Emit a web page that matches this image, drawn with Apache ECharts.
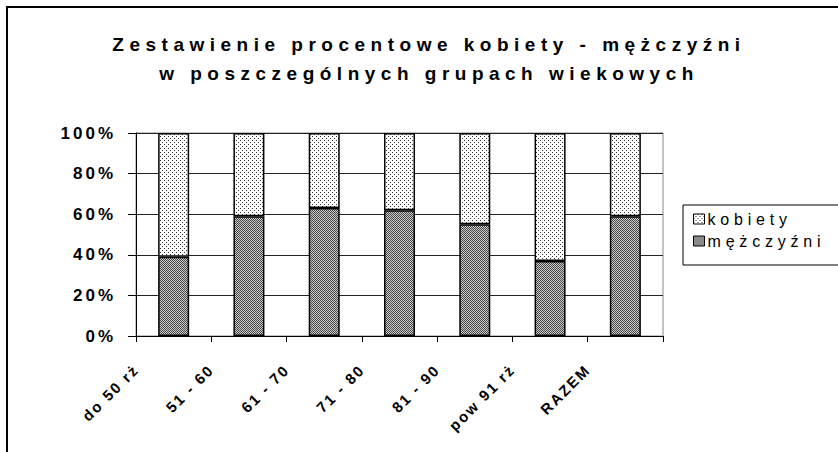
<!DOCTYPE html>
<html>
<head>
<meta charset="UTF-8" />
<title>Zestawienie procentowe kobiety - mężczyźni</title>
<style>
  html, body { margin: 0; padding: 0; background: #fff; }
  #chart { width: 838px; height: 452px; }
  #chart image { image-rendering: pixelated; }
  /* rozstrzelone litery jak w Excelu */
  #chart text[style*="19px"] { letter-spacing: 5.5px; }
  #chart text[style*="17px"] { letter-spacing: 3px; }
  #chart text[style*="16px"] { letter-spacing: 4.8px; }
  #chart text[style*="15px"] { letter-spacing: 2px; }
</style>
<script src="https://cdn.jsdelivr.net/npm/echarts@6/dist/echarts.min.js"></script>
</head>
<body>
<div id="chart"></div>
<script>
// dane (%)
var categories = ["do 50 rż", "51 - 60", "61 - 70", "71 - 80", "81 - 90", "pow 91 rż", "RAZEM"];
var mezczyzni = [39, 59, 63, 62, 55, 37, 59];
var kobiety = [61, 41, 37, 38, 45, 63, 41];
var seriesNames = ["kobiety", "mężczyźni"];

// wzorki wypełnienia
function makePattern(w, h, draw) {
  var c = document.createElement("canvas");
  c.width = w; c.height = h;
  var ctx = c.getContext("2d");
  draw(ctx);
  return { image: c.toDataURL(), imageWidth: w, imageHeight: h, repeat: "repeat" };
}
var dotFill = makePattern(4, 4, function (ctx) {
  ctx.fillStyle = "#ffffff"; ctx.fillRect(0, 0, 4, 4);
  ctx.fillStyle = "#333333";
  ctx.fillRect(0, 0, 1, 1);
  ctx.fillRect(2, 2, 1, 1);
});
var checkFill = makePattern(2, 2, function (ctx) {
  ctx.fillStyle = "#cccccc"; ctx.fillRect(0, 0, 2, 2);
  ctx.fillStyle = "#454545";
  ctx.fillRect(0, 0, 1, 1);
  ctx.fillRect(1, 1, 1, 1);
});

var font = "Liberation Sans";
var chart = echarts.init(document.getElementById("chart"), null, { renderer: "svg" });

var option = {
  animation: false,
  backgroundColor: "#fff",
  title: {
    text: "Zestawienie procentowe kobiety - mężczyźni\nw poszczególnych grupach wiekowych",
    left: 429,
    top: 30,
    padding: 0,
    textAlign: "center",
    textStyle: { fontFamily: font, fontWeight: "bold", fontSize: 19, lineHeight: 29, color: "#000" }
  },
  legend: {
    data: seriesNames,
    orient: "vertical",
    left: 683,
    top: 205,
    padding: [6, 60, 16, 10],
    itemGap: 6,
    itemWidth: 11,
    itemHeight: 10,
    icon: "rect",
    borderColor: "#000",
    borderWidth: 1,
    itemStyle: { borderColor: "#000", borderWidth: 1 },
    textStyle: { fontFamily: font, fontSize: 16, color: "#000", padding: [0, 0, 0, -2] }
  },
  grid: { left: 136, right: 175, top: 133, bottom: 116, show: true, borderColor: "#888", borderWidth: 1 },
  xAxis: [{
    type: "category",
    data: categories,
    position: "bottom",
    axisLine: { lineStyle: { color: "#000", width: 1 } },
    axisTick: { show: true, length: 6, lineStyle: { color: "#000" } },
    axisLabel: { show: false }
  }, {
    // etykiety przy kreskach podziału, jak w oryginale
    type: "category",
    data: categories.concat([""]),
    position: "bottom",
    boundaryGap: false,
    axisLine: { show: false },
    axisTick: { show: false },
    axisLabel: {
      interval: 0,
      rotate: 45,
      margin: 31,
      fontFamily: font,
      fontWeight: "bold",
      fontSize: 15,
      color: "#000"
    }
  }],
  yAxis: {
    type: "value",
    min: 0,
    max: 100,
    interval: 20,
    axisLine: { show: true, lineStyle: { color: "#000" } },
    axisTick: { show: true, length: 8, lineStyle: { color: "#000" } },
    splitLine: { lineStyle: { color: "#222", width: 1 } },
    axisLabel: {
      formatter: "{value}%",
      margin: 20,
      fontFamily: font,
      fontWeight: "bold",
      fontSize: 17,
      color: "#000"
    }
  },
  series: [{
    name: "mężczyźni",
    type: "bar",
    stack: "razem",
    xAxisIndex: 0,
    barWidth: 31,
    data: mezczyzni,
    itemStyle: { color: checkFill, borderColor: "#000", borderWidth: 1.5 }
  }, {
    name: "kobiety",
    type: "bar",
    stack: "razem",
    xAxisIndex: 0,
    barWidth: 31,
    data: kobiety,
    itemStyle: { color: dotFill, borderColor: "#000", borderWidth: 1.5 }
  }],
  graphic: [{
    type: "rect",
    shape: { x: 7, y: 7, width: 900, height: 500 },
    style: { fill: null, stroke: "#000", lineWidth: 2 },
    silent: true
  }]
};

chart.setOption(option);
</script>
</body>
</html>
